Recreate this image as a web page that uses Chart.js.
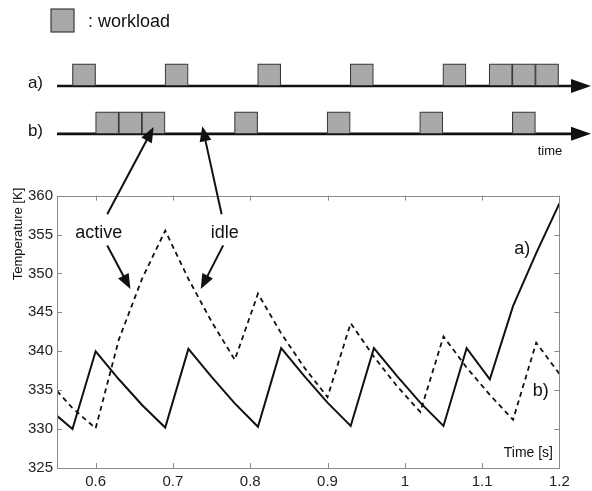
<!DOCTYPE html>
<html><head><meta charset="utf-8">
<script src="https://cdn.jsdelivr.net/npm/chart.js@4.4.1/dist/chart.umd.min.js"></script>
<style>
html,body{margin:0;padding:0;background:#fff;}
#wrap{position:relative;width:592px;height:491px;overflow:hidden;}
#top{position:absolute;left:0;top:0;}
#main{position:absolute;left:0;top:0;}
</style></head><body>
<div id="wrap"><canvas id="top" width="592" height="171" style="width:592px;height:171px"></canvas><canvas id="main" width="592" height="491" style="width:592px;height:491px"></canvas></div>
<script>
// ---- data ----
const timeTicks = [0.6, 0.7, 0.8, 0.9, 1, 1.1, 1.2];
const tempTicks = [325, 330, 335, 340, 345, 350, 355, 360];
// a) solid curve
const timeA = [0.55,0.57,0.6,0.63,0.66,0.69,0.72,0.75,0.78,0.81,0.84,0.87,0.9,0.93,0.96,0.99,1.02,1.05,1.08,1.11,1.14,1.17,1.2];
const tempA = [331.7,330.0,340.0,336.4,333.1,330.2,340.3,336.7,333.3,330.3,340.4,336.8,333.4,330.4,340.4,336.8,333.4,330.4,340.4,336.4,345.8,352.6,359.0];
// b) dashed curve
const timeB = [0.55,0.57,0.6,0.63,0.66,0.69,0.72,0.75,0.78,0.81,0.84,0.87,0.9,0.93,0.96,0.99,1.02,1.05,1.08,1.11,1.14,1.17,1.2];
const tempB = [334.9,332.7,330.1,341.5,349.3,355.5,349.3,343.8,338.9,347.4,342.3,337.9,334.1,343.6,339.3,335.5,332.2,341.9,337.9,334.4,331.2,341.1,337.1];
// workload timelines (start, end in s)
const workloadRows = ['a)', 'b)'];
const workloadA = [[0.57,0.6],[0.69,0.72],[0.81,0.84],[0.93,0.96],[1.05,1.08],[1.11,1.14],[1.14,1.17],[1.17,1.2]];
const workloadB = [[0.6,0.63],[0.63,0.66],[0.66,0.69],[0.78,0.81],[0.9,0.93],[1.02,1.05],[1.14,1.17]];
const timelineStart = 0.55, timelineEnd = 1.242;
// annotations (data coordinates)
const annoLabels = [
  {text:'active', t:0.604, v:355.2},
  {text:'idle', t:0.767, v:355.2},
  {text:'a)', t:1.152, v:353.1},
  {text:'b)', t:1.176, v:334.9}
];
const annoArrows = [
  {from:[0.615,357.6], to:[0.675,368.8]},
  {from:[0.763,357.6], to:[0.738,368.9]},
  {from:[0.615,353.6], to:[0.645,348.0]},
  {from:[0.765,353.6], to:[0.736,348.0]}
];

const FONT = "'Liberation Sans', Arial, Helvetica, sans-serif";
Chart.defaults.font.family = FONT;

function arrowHead(ctx, x1, y1, x2, y2, len, half) {
  const a = Math.atan2(y2 - y1, x2 - x1);
  ctx.beginPath();
  ctx.moveTo(x2, y2);
  ctx.lineTo(x2 - len*Math.cos(a) + half*Math.sin(a), y2 - len*Math.sin(a) - half*Math.cos(a));
  ctx.lineTo(x2 - len*Math.cos(a) - half*Math.sin(a), y2 - len*Math.sin(a) + half*Math.cos(a));
  ctx.closePath();
  ctx.fill();
}

// ---- top chart: workload timelines ----
const BAR_T = 22;
const timelinePlugin = {
  id: 'timeline',
  beforeDatasetsDraw(chart) {
    const ctx = chart.ctx, xs = chart.scales.x, ys = chart.scales.y;
    ctx.save();
    ctx.strokeStyle = '#111'; ctx.fillStyle = '#111'; ctx.lineWidth = 2.6;
    workloadRows.forEach((r, i) => {
      const y = ys.getPixelForValue(i) + BAR_T/2;
      const x0 = xs.getPixelForValue(timelineStart), x1 = xs.getPixelForValue(timelineEnd);
      ctx.beginPath(); ctx.moveTo(x0, y); ctx.lineTo(x1 - 15, y); ctx.stroke();
      arrowHead(ctx, x0, y, x1, y, 20, 7);
    });
    ctx.restore();
  },
  afterDraw(chart) {
    const ctx = chart.ctx;
    ctx.save();
    // legend
    ctx.fillStyle = '#a9a9a9'; ctx.strokeStyle = '#3a3a3a'; ctx.lineWidth = 1.2;
    ctx.fillRect(51, 9, 23, 23); ctx.strokeRect(51, 9, 23, 23);
    ctx.fillStyle = '#111'; ctx.font = '18px ' + FONT; ctx.textBaseline = 'alphabetic';
    ctx.fillText(': workload', 88, 27);
    // time label
    ctx.font = '13px ' + FONT; ctx.textAlign = 'center';
    ctx.fillText('time', 550, 155);
    ctx.restore();
  }
};
const boxStyle = {backgroundColor:'#a9a9a9', borderColor:'#3a3a3a', borderWidth:1.2, borderSkipped:false, barThickness:BAR_T};
new Chart(document.getElementById('top'), {
  type: 'bar',
  data: {
    labels: workloadRows,
    datasets: [
      Object.assign({label:'a)', data: workloadA.map(r => ({x:r, y:'a)'}))}, boxStyle),
      Object.assign({label:'b)', data: workloadB.map(r => ({x:r, y:'b)'}))}, boxStyle)
    ]
  },
  options: {
    indexAxis: 'y', responsive: false, animation: false,
    layout: {padding: {top: 51, bottom: 1, right: 1, left: 0}},
    plugins: {legend: {display: false}, tooltip: {enabled: false}},
    datasets: {bar: {grouped: false}},
    scales: {
      x: {type: 'linear', min: timelineStart, max: timelineEnd, display: false},
      y: {type: 'category', labels: workloadRows, offset: true,
          grid: {display: false, drawTicks: false, tickLength: 0}, border: {display: false},
          ticks: {font: {size: 17, family: FONT}, color: '#111', padding: 14, labelOffset: 8},
          afterFit(s) { s.width = 57; }}
    }
  },
  plugins: [timelinePlugin]
});

// ---- main chart ----
const framePlugin = {
  id: 'frame',
  afterDraw(chart) {
    const ctx = chart.ctx, a = chart.chartArea, xs = chart.scales.x, ys = chart.scales.y;
    ctx.save();
    ctx.strokeStyle = '#8a8a8a'; ctx.lineWidth = 1;
    ctx.strokeRect(Math.round(a.left)+0.5, Math.round(a.top)+0.5, Math.round(a.right-a.left), Math.round(a.bottom-a.top));
    ctx.beginPath();
    xs.ticks.forEach(t => {
      const x = Math.round(xs.getPixelForValue(t.value)) + 0.5;
      ctx.moveTo(x, a.bottom); ctx.lineTo(x, a.bottom - 5);
      ctx.moveTo(x, a.top); ctx.lineTo(x, a.top + 5);
    });
    ys.ticks.forEach(t => {
      const y = Math.round(ys.getPixelForValue(t.value)) + 0.5;
      ctx.moveTo(a.left, y); ctx.lineTo(a.left + 5, y);
      ctx.moveTo(a.right, y); ctx.lineTo(a.right - 5, y);
    });
    ctx.stroke();
    // axis titles
    ctx.fillStyle = '#111';
    ctx.font = '14px ' + FONT; ctx.textAlign = 'right'; ctx.textBaseline = 'alphabetic';
    ctx.fillText('Time [s]', 553, 457);
    ctx.save();
    ctx.translate(18, 234); ctx.rotate(-Math.PI/2);
    ctx.font = '13px ' + FONT; ctx.textAlign = 'center'; ctx.textBaseline = 'middle';
    ctx.fillText('Temperature [K]', 0, 0);
    ctx.restore();
    // annotations
    ctx.font = '18px ' + FONT; ctx.textAlign = 'center'; ctx.textBaseline = 'middle';
    annoLabels.forEach(l => ctx.fillText(l.text, xs.getPixelForValue(l.t), ys.getPixelForValue(l.v)));
    ctx.strokeStyle = '#111'; ctx.lineWidth = 2;
    annoArrows.forEach(ar => {
      const x1 = xs.getPixelForValue(ar.from[0]), y1 = ys.getPixelForValue(ar.from[1]);
      const x2 = xs.getPixelForValue(ar.to[0]), y2 = ys.getPixelForValue(ar.to[1]);
      const ang = Math.atan2(y2-y1, x2-x1);
      ctx.beginPath(); ctx.moveTo(x1, y1); ctx.lineTo(x2 - 10*Math.cos(ang), y2 - 10*Math.sin(ang)); ctx.stroke();
      arrowHead(ctx, x1, y1, x2, y2, 15, 6);
    });
    ctx.restore();
  }
};

new Chart(document.getElementById('main'), {
  type: 'scatter',
  data: {
    datasets: [
      {label: 'a)', data: timeA.map((t, i) => ({x: t, y: tempA[i]})), showLine: true, pointRadius: 0,
       borderColor: '#111', borderWidth: 2, tension: 0},
      {label: 'b)', data: timeB.map((t, i) => ({x: t, y: tempB[i]})), showLine: true, pointRadius: 0,
       borderColor: '#111', borderWidth: 1.8, borderDash: [5, 4], tension: 0}
    ]
  },
  options: {
    responsive: false, animation: false,
    layout: {padding: {top: 195.6, right: 32.6, left: 0, bottom: 0}},
    plugins: {legend: {display: false}, tooltip: {enabled: false}},
    scales: {
      x: {type: 'linear', min: 0.55, max: 1.2,
          grid: {display: false, drawTicks: false, tickLength: 0}, border: {display: false},
          afterBuildTicks(s) { s.ticks = timeTicks.map(v => ({value: v})); },
          ticks: {font: {size: 15, family: FONT}, color: '#222', padding: 5, maxRotation: 0,
                  callback: v => String(v)},
          afterFit(s) { s.height = 23; }},
      y: {type: 'linear', min: 325, max: 360,
          grid: {display: false, drawTicks: false, tickLength: 0}, border: {display: false},
          afterBuildTicks(s) { s.ticks = tempTicks.map(v => ({value: v})); },
          ticks: {font: {size: 15, family: FONT}, color: '#222', padding: 4,
                  callback: v => String(v)},
          afterFit(s) { s.width = 57; }}
    }
  },
  plugins: [framePlugin]
});
</script>
</body></html>
